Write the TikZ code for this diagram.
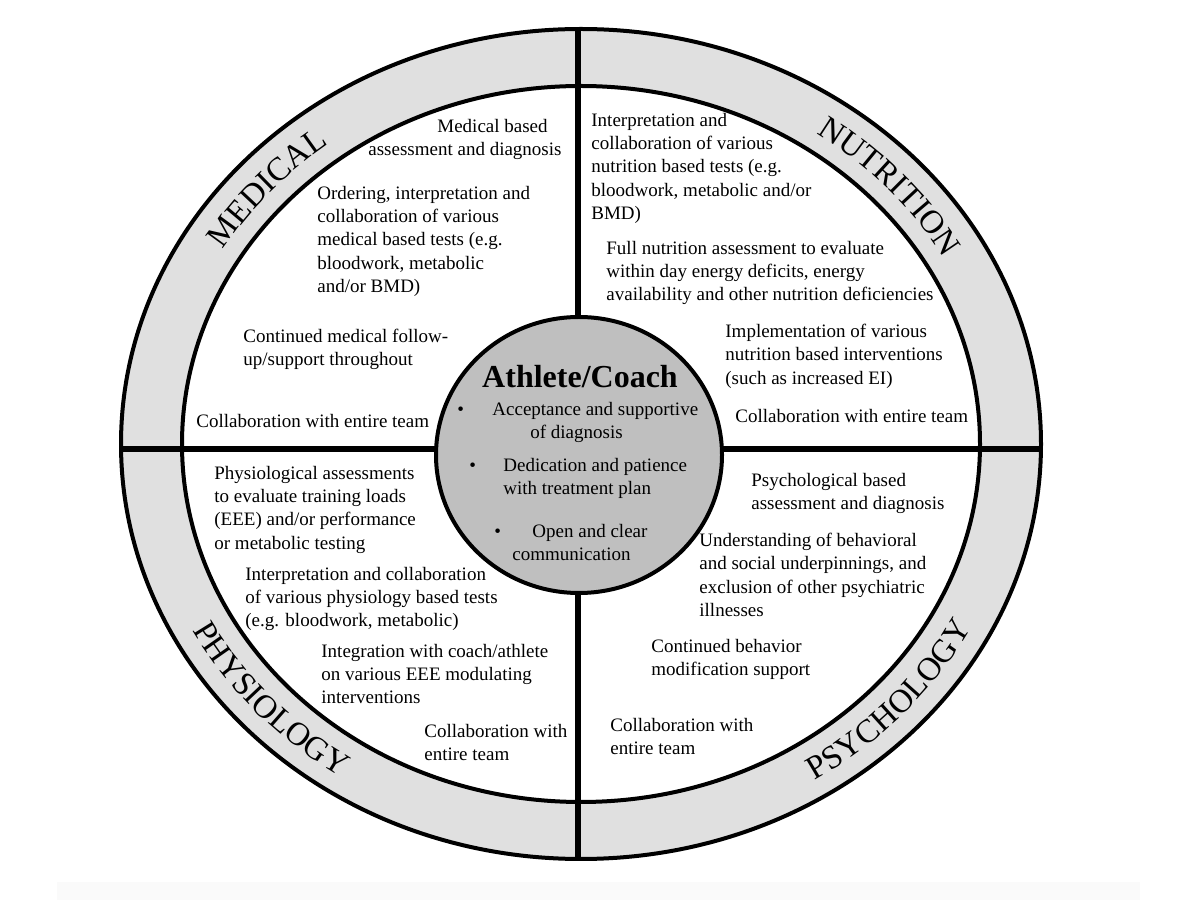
\documentclass[tikz,border=0pt]{standalone}
\usepackage{fontspec}
\setmainfont{Liberation Serif}
\usetikzlibrary{shapes.geometric,decorations.text}
\definecolor{ringgray}{HTML}{E0E0E0}
\definecolor{coregray}{HTML}{BFBFBF}
\newcommand\ringfont{\fontsize{16.5}{16.5}\selectfont}
\begin{document}
\begin{tikzpicture}[x=0.5pt,y=0.5pt,
  body/.style={anchor=north west, inner sep=0pt, align=left, font=\fontsize{9.5}{11.6}\selectfont},
  ringlabel/.style={decorate, decoration={text along path, text align=center, text={#1}}},
  divider/.style={line width=3pt},
  border/.style={draw=black, line width=2pt, ellipse, inner sep=0pt}]
\useasboundingbox (0,0) rectangle (1200,900);
\fill[black!2] (57,0) rectangle (1140,18);
% rings
\node[border, fill=ringgray, minimum width=460pt, minimum height=415pt] (outer) at (581,456) {};
\node[border, fill=white, minimum width=399pt, minimum height=358pt] (inner) at (581,456) {};
% dividers
\coordinate (hl) at (121,451);
\coordinate (hr) at (1041,451);
\coordinate (vt) at (578,871);
\coordinate (vb) at (578,41);
\draw[divider] (hl) -- (hr);
\draw[divider] (vt) -- (vb);
% core
\node[border, fill=coregray, minimum width=143pt, minimum height=138pt] (core) at (579,445) {};
% ring labels
\path[shift={(581,456)}, ringlabel={|\ringfont|MEDICAL}] (165.5:418 and 375.6) arc[start angle=165.5, end angle=111.5, x radius=418, y radius=375.6];
\path[shift={(581,456)}, ringlabel={|\ringfont|NUTRITION}] (69.2:418 and 375.6) arc[start angle=69.2, end angle=15.2, x radius=418, y radius=375.6];
\path[shift={(581,456)}, ringlabel={|\ringfont|PHYSIOLOGY}] (195:440 and 397.4) arc[start angle=195, end angle=249, x radius=440, y radius=397.4];
\path[shift={(581,456)}, ringlabel={|\ringfont|PSYCHOLOGY}] (290.7:440 and 397.4) arc[start angle=290.7, end angle=344.7, x radius=440, y radius=397.4];
% center
\node[inner sep=0pt, font=\fontsize{16}{16}\selectfont\bfseries] (title) at (580,523) {Athlete/Coach};
\node[body] (c1) at (457,498) {•\hspace{14.2pt}Acceptance and supportive\\\hspace*{36.5pt}of diagnosis};
\node[body] (c2) at (469,442) {•\hspace{13.7pt}Dedication and patience\\\hspace*{17pt}with treatment plan};
\node[body] (c3) at (494,376) {•\hspace{15.7pt}Open and clear\\\hspace*{9pt}communication};
% medical
\node[body] (m1) at (368,781) {\hspace*{34.5pt}Medical based\\assessment and diagnosis};
\node[body] (m2) at (317,714) {Ordering, interpretation and\\collaboration of various\\medical based tests (e.g.\\bloodwork, metabolic\\and/or BMD)};
\node[body] (m3) at (243,571) {Continued medical follow-\\up/support throughout};
\node[body] (m4) at (196,486) {Collaboration with entire team};
% nutrition
\node[body] (n1) at (591,787) {Interpretation and\\collaboration of various\\nutrition based tests (e.g.\\bloodwork, metabolic and/or\\BMD)};
\node[body] (n2) at (606,659) {Full nutrition assessment to evaluate\\within day energy deficits, energy\\availability and other nutrition deficiencies};
\node[body] (n3) at (725,576) {Implementation of various\\nutrition based interventions\\(such as increased EI)};
\node[body] (n4) at (735,491) {Collaboration with entire team};
% physiology
\node[body] (p1) at (214,434) {Physiological assessments\\to evaluate training loads\\(EEE) and/or performance\\or metabolic testing};
\node[body] (p2) at (245,333) {Interpretation and collaboration\\of various physiology based tests\\(e.g. bloodwork, metabolic)};
\node[body] (p3) at (321,256) {Integration with coach/athlete\\on various EEE modulating\\interventions};
\node[body] (p4) at (424,176) {Collaboration with\\entire team};
% psychology
\node[body] (s1) at (751,427) {Psychological based\\assessment and diagnosis};
\node[body] (s2) at (699,367) {Understanding of behavioral\\and social underpinnings, and\\exclusion of other psychiatric\\illnesses};
\node[body] (s3) at (651,261) {Continued behavior\\modification support};
\node[body] (s4) at (610,182) {Collaboration with\\entire team};
\end{tikzpicture}
\end{document}
